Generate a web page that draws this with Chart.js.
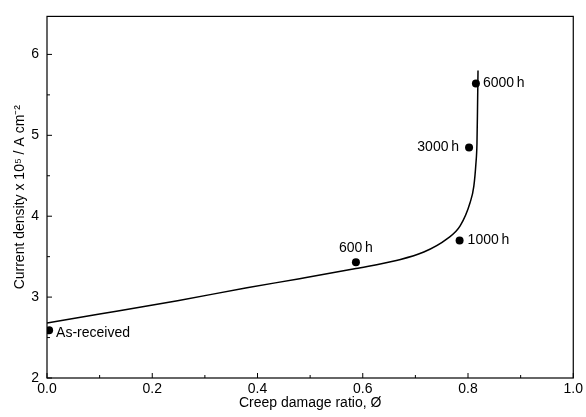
<!DOCTYPE html>
<html>
<head>
<meta charset="utf-8">
<script src="https://cdn.jsdelivr.net/npm/chart.js@4/dist/chart.umd.min.js"></script>
<style>
  html, body { margin: 0; padding: 0; background: #fff; }
  #wrap { width: 586px; height: 417px; }
</style>
</head>
<body>
<div id="wrap"><canvas id="myChart" width="586" height="417"></canvas></div>
<script>
// fitted curve
const curveX = [0, 0.1, 0.248, 0.38, 0.48, 0.587, 0.666, 0.716, 0.76, 0.785, 0.804, 0.811, 0.815, 0.817, 0.818, 0.819];
const curveY = [2.68, 2.79, 2.956, 3.115, 3.228, 3.354, 3.456, 3.557, 3.72, 3.88, 4.17, 4.37, 4.65, 4.9, 5.3, 5.8];

// measured points
const pointLabels = ["As-received", "600\u2009h", "1000\u2009h", "3000\u2009h", "6000\u2009h"];
const pointX = [0.004, 0.587, 0.784, 0.802, 0.815];
const pointY = [2.59, 3.43, 3.70, 4.85, 5.64];

const xTicks = [0, 0.2, 0.4, 0.6, 0.8, 1.0];
const yTicks = [2, 3, 4, 5, 6];
const xMinor = [0.1, 0.3, 0.5, 0.7, 0.9];
const yMinor = [2.5, 3.5, 4.5, 5.5];

const FONT = "'Liberation Sans', Arial, sans-serif";

// where each label sits relative to its dot
const labelPos = [
  { dx: 7, dy: 3, align: "left" },
  { dx: 0, dy: -14, align: "center" },
  { dx: 8, dy: 0, align: "left" },
  { dx: -10, dy: 0, align: "right" },
  { dx: 7, dy: 0, align: "left" },
];

const framePlugin = {
  id: "frame",
  afterDatasetsDraw(chart) {
    const { ctx, chartArea: a, scales } = chart;
    ctx.save();
    ctx.strokeStyle = "#000";
    ctx.lineWidth = 1.2;
    ctx.strokeRect(a.left, a.top, a.right - a.left, a.bottom - a.top);
    ctx.lineWidth = 1;
    ctx.beginPath();
    xTicks.forEach(v => {
      const px = scales.x.getPixelForValue(v);
      ctx.moveTo(px, a.bottom); ctx.lineTo(px, a.bottom - 5);
    });
    xMinor.forEach(v => {
      const px = scales.x.getPixelForValue(v);
      ctx.moveTo(px, a.bottom); ctx.lineTo(px, a.bottom - 3);
    });
    yTicks.forEach(v => {
      const py = scales.y.getPixelForValue(v);
      ctx.moveTo(a.left, py); ctx.lineTo(a.left + 5, py);
    });
    yMinor.forEach(v => {
      const py = scales.y.getPixelForValue(v);
      ctx.moveTo(a.left, py); ctx.lineTo(a.left + 3, py);
    });
    ctx.stroke();

    ctx.fillStyle = "#000";
    ctx.font = "14px " + FONT;
    ctx.textBaseline = "middle";
    pointLabels.forEach((t, i) => {
      const px = scales.x.getPixelForValue(pointX[i]);
      const py = scales.y.getPixelForValue(pointY[i]);
      ctx.textAlign = labelPos[i].align;
      ctx.fillText(t, px + labelPos[i].dx, py + labelPos[i].dy);
    });
    ctx.restore();
  }
};

const ctx = document.getElementById("myChart").getContext("2d");
new Chart(ctx, {
  type: "scatter",
  data: {
    datasets: [
      {
        label: "curve",
        data: curveX.map((x, i) => ({ x: x, y: curveY[i] })),
        showLine: true,
        borderColor: "#000",
        borderWidth: 1.5,
        pointRadius: 0,
        cubicInterpolationMode: "monotone",
      },
      {
        label: "points",
        data: pointX.map((x, i) => ({ x: x, y: pointY[i] })),
        showLine: false,
        pointRadius: 4,
        backgroundColor: "#000",
        borderColor: "#000",
        borderWidth: 0,
      },
    ],
  },
  options: {
    responsive: false,
    animation: false,
    layout: { padding: { top: 11, right: 9, left: 0, bottom: 0 } },
    plugins: { legend: { display: false }, tooltip: { enabled: false } },
    scales: {
      x: {
        type: "linear",
        min: 0,
        max: 1,
        afterBuildTicks: s => { s.ticks = xTicks.map(v => ({ value: v })); },
        afterFit: s => { s.height = 39; },
        grid: { display: false, drawTicks: false },
        border: { display: false },
        ticks: {
          padding: 3,
          color: "#000",
          font: { size: 14, family: FONT },
          callback: v => Number(v).toFixed(1),
        },
        title: {
          display: true,
          text: "Creep damage ratio, \u00d8",
          color: "#000",
          font: { size: 14, family: FONT },
          padding: { top: 0, bottom: 5 },
        },
      },
      y: {
        type: "linear",
        min: 2,
        max: 6.47,
        afterBuildTicks: s => { s.ticks = yTicks.map(v => ({ value: v })); },
        afterFit: s => { s.width = 47; },
        grid: { display: false, drawTicks: false },
        border: { display: false },
        ticks: {
          padding: 8,
          color: "#000",
          font: { size: 14, family: FONT },
        },
        title: {
          display: true,
          text: "Current density x 10\u2075 / A cm\u207b\u00b2",
          color: "#000",
          font: { size: 14, family: FONT },
          padding: { top: 12, bottom: 0 },
        },
      },
    },
  },
  plugins: [framePlugin],
});
</script>
</body>
</html>
